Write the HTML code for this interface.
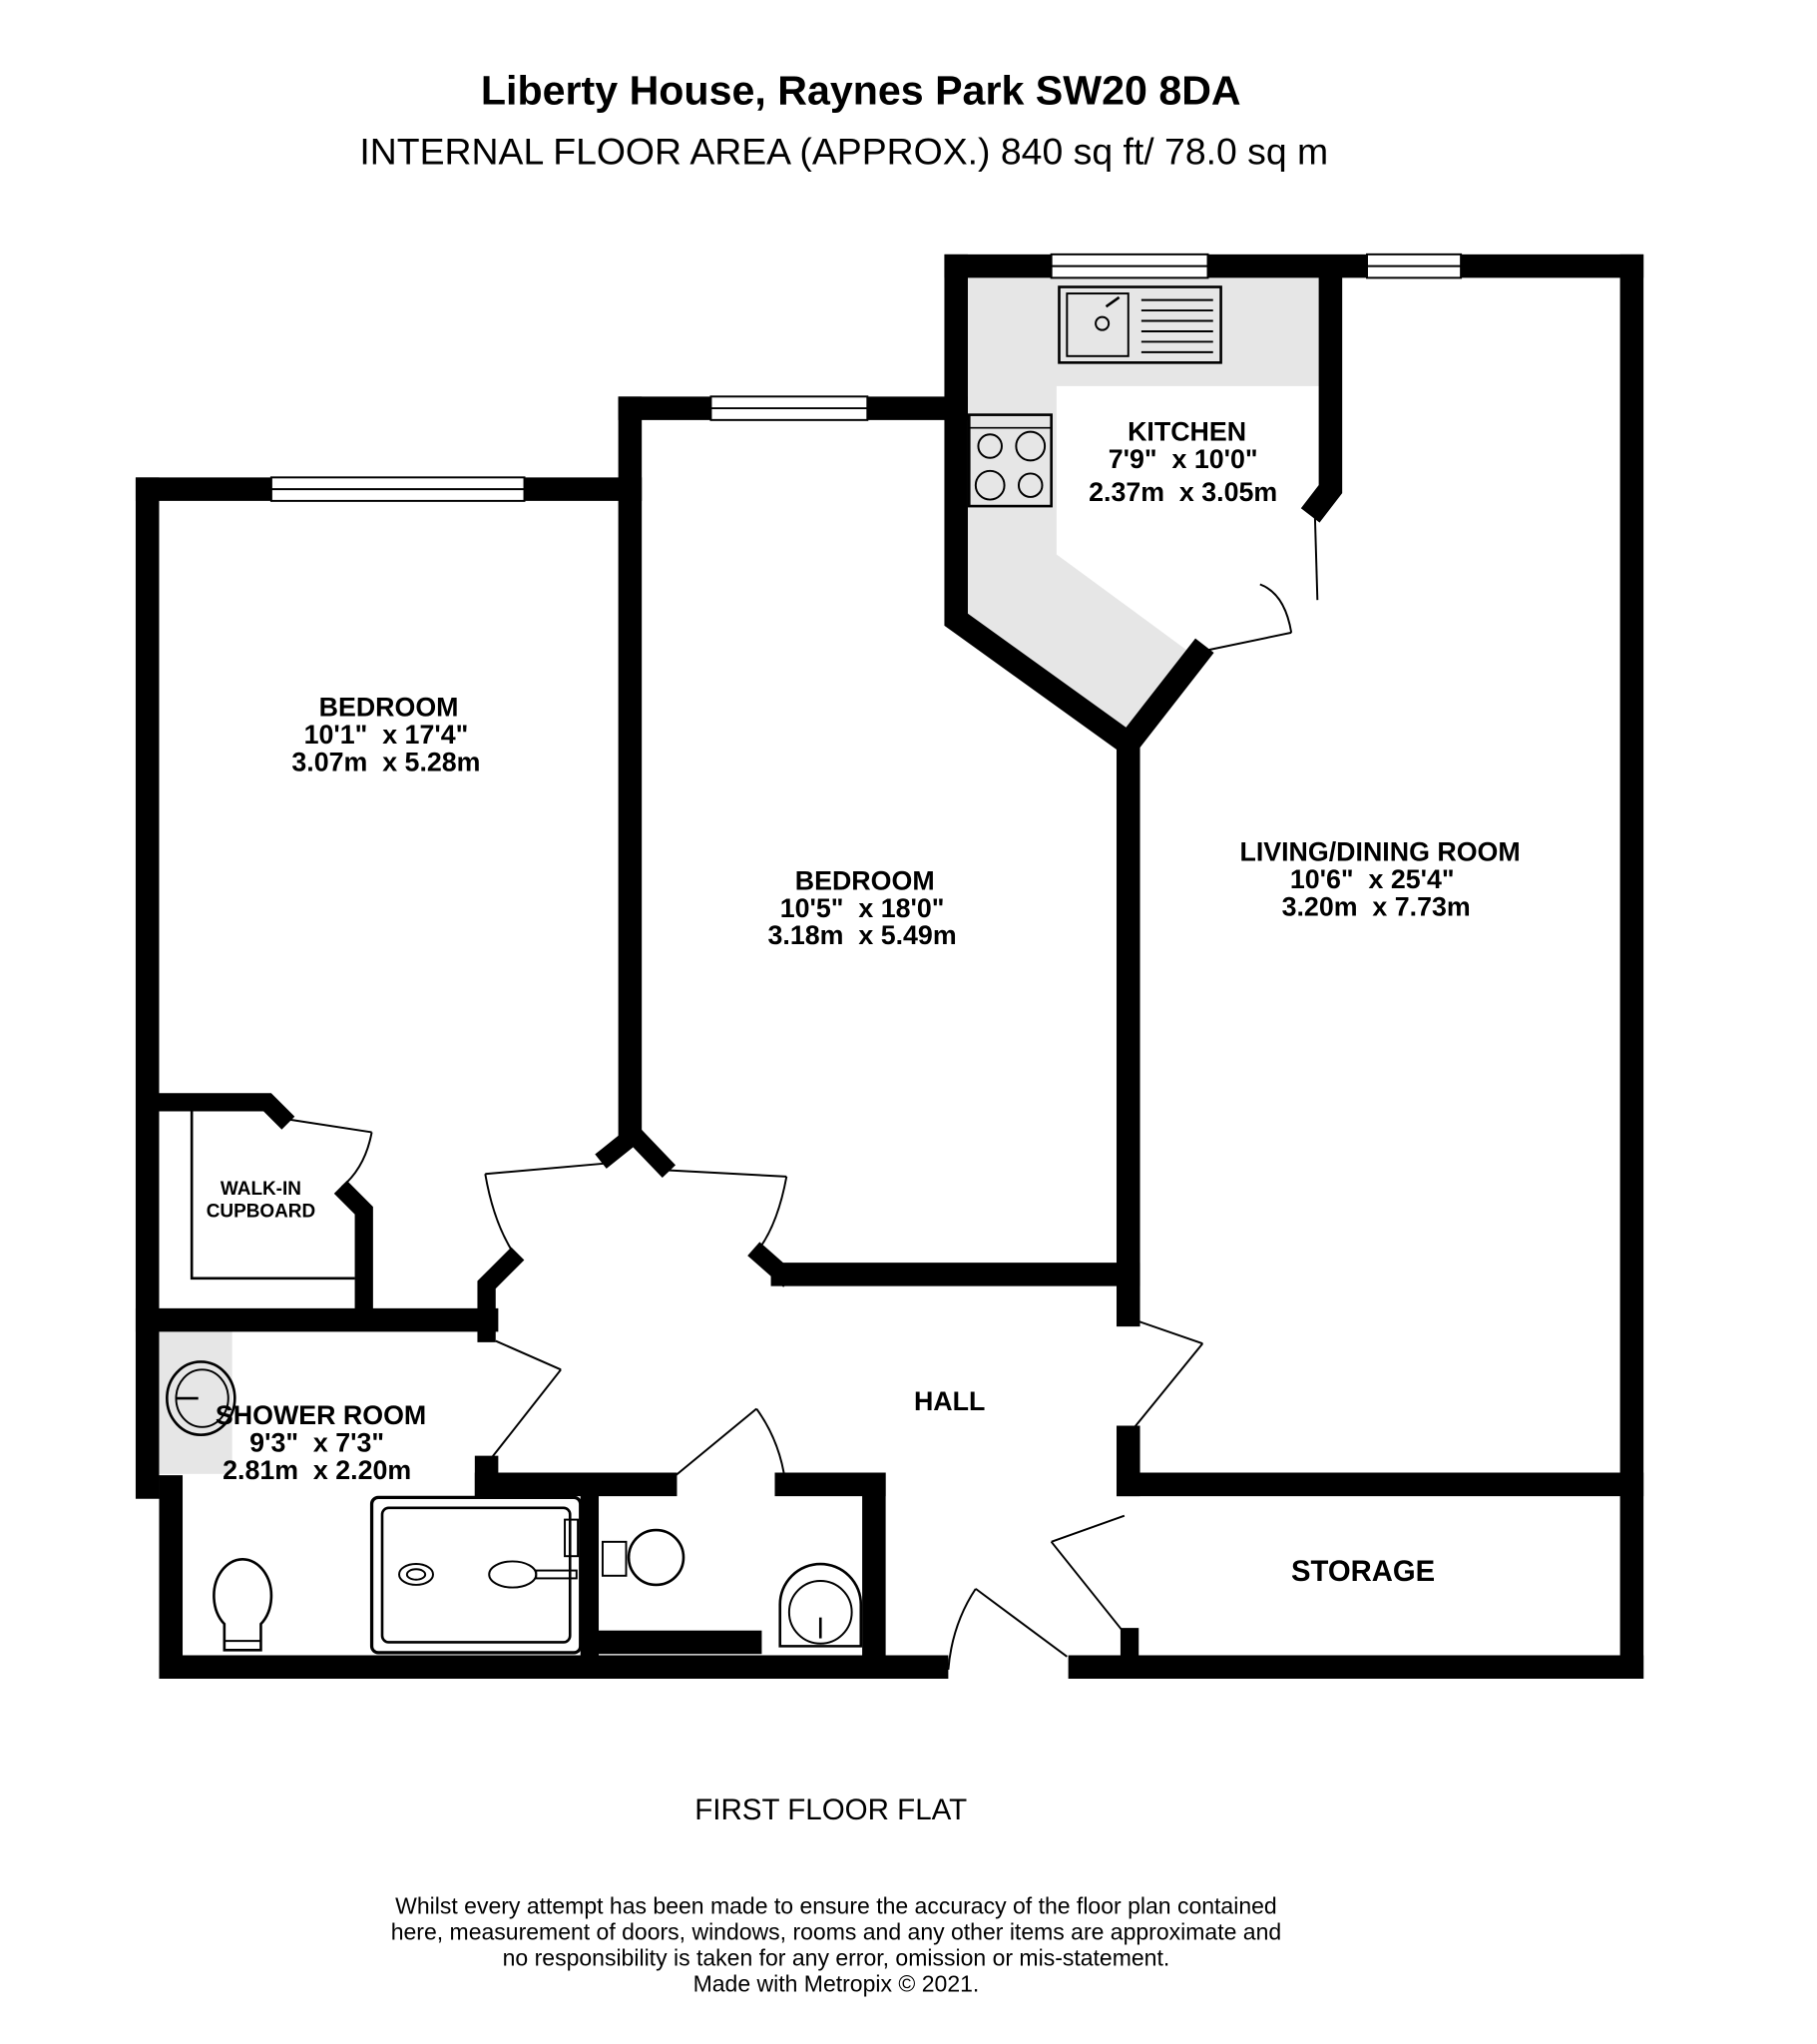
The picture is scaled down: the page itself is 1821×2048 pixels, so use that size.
<!DOCTYPE html>
<html><head><meta charset="utf-8"><style>
html,body{margin:0;padding:0;background:#fff;}
svg{display:block;}
text{font-family:"Liberation Sans",sans-serif;white-space:pre;}
</style></head><body>
<svg width="1821" height="2048" viewBox="0 0 1393 1567" preserveAspectRatio="none" xmlns="http://www.w3.org/2000/svg">
<rect width="1393" height="1567" fill="#fff"/>
<polygon points="742,213 1014,213 1014,296 810,296 810,425 912,500 866,565 742,472" fill="#e6e6e6"/>
<rect x="122" y="1020" width="56" height="110" fill="#e6e6e6"/>
<g stroke="#000" stroke-width="18" fill="none" stroke-linecap="square" stroke-linejoin="miter">
<line x1="113" y1="375" x2="208" y2="375"/>
<line x1="402" y1="375" x2="483" y2="375"/>
<line x1="113" y1="375" x2="113" y2="1140"/>
<line x1="131" y1="1140" x2="131" y2="1278"/>
<line x1="131" y1="1278" x2="718" y2="1278"/>
<line x1="828" y1="1278" x2="1251" y2="1278"/>
<line x1="1251" y1="204" x2="1251" y2="1278"/>
<line x1="733" y1="204" x2="806" y2="204"/>
<line x1="926" y1="204" x2="1048" y2="204"/>
<line x1="1120" y1="204" x2="1251" y2="204"/>
<line x1="483" y1="313" x2="545" y2="313"/>
<line x1="665" y1="313" x2="733" y2="313"/>
<line x1="483" y1="313" x2="483" y2="870"/>
<polyline points="733,204 733,475 865,570 918,502"/>
<line x1="865" y1="570" x2="865" y2="1008"/>
<line x1="865" y1="1102" x2="865" y2="1138"/>
<line x1="865" y1="1138" x2="1251" y2="1138"/>
<line x1="600" y1="977" x2="865" y2="977"/>
<polyline points="1020,208 1020,375 1010,388"/>
<line x1="113" y1="1012" x2="373" y2="1012"/>
<line x1="373" y1="1125" x2="373" y2="1138"/>
<line x1="373" y1="1138" x2="510" y2="1138"/>
<line x1="603" y1="1138" x2="670" y2="1138"/>
<line x1="670" y1="1138" x2="670" y2="1270"/>
</g>
<g stroke="#000" stroke-width="14" fill="none" stroke-linecap="square">
<polyline points="466,886 486,870 508,893"/>
<polyline points="583,962 600,977"/>
<polyline points="392,966 373,985 373,1022"/>
<polyline points="122,845 205,845 216,856"/>
<polyline points="266,915 279,928 279,1005"/>
<line x1="866" y1="1255" x2="866" y2="1278"/>
<line x1="452" y1="1146" x2="452" y2="1270"/>
</g>
<rect x="458" y="1250" width="126" height="18" fill="#000"/>
<polyline points="147,852 147,980 272,980" stroke="#000" stroke-width="2" fill="none"/>
<g fill="#fff" stroke="#000" stroke-width="1.5">
<rect x="208" y="366" width="194" height="18"/><line x1="208" y1="375" x2="402" y2="375"/>
<rect x="545" y="304" width="120" height="18"/><line x1="545" y1="313" x2="665" y2="313"/>
<rect x="806" y="195" width="120" height="18"/><line x1="806" y1="204" x2="926" y2="204"/>
<rect x="1048" y="195" width="72" height="18"/><line x1="1048" y1="204" x2="1120" y2="204"/>
</g>
<g stroke="#000" stroke-width="1.5" fill="none">
<line x1="220" y1="858" x2="285" y2="868"/><path d="M285,868 Q280,895 262,910"/>
<line x1="463" y1="892" x2="372" y2="900"/><path d="M372,900 Q378,935 392,958"/>
<line x1="510" y1="897" x2="603" y2="902"/><path d="M603,902 Q596,940 580,960"/>
<line x1="1008" y1="392" x2="1010" y2="460"/><path d="M966,448 Q985,455 990,485"/>
<line x1="918" y1="500" x2="990" y2="485"/>
<line x1="380" y1="1028" x2="430" y2="1050"/><line x1="430" y1="1050" x2="375" y2="1120"/>
<line x1="870" y1="1012" x2="922" y2="1030"/><line x1="922" y1="1030" x2="865" y2="1100"/>
<line x1="512" y1="1136" x2="580" y2="1080"/><path d="M580,1080 Q598,1105 602,1136"/>
<line x1="862" y1="1162" x2="806" y2="1182"/><line x1="806" y1="1182" x2="862" y2="1252"/>
<line x1="818" y1="1270" x2="748" y2="1218"/><path d="M748,1218 Q730,1245 727,1280"/>
</g>
<g stroke="#000" fill="none">
<rect x="285" y="1148" width="160" height="119" rx="5" stroke-width="2.5"/>
<rect x="293" y="1156" width="144" height="103" rx="5" stroke-width="2"/>
<rect x="433" y="1165" width="10" height="28" stroke-width="1.5"/>
<ellipse cx="319" cy="1207" rx="13" ry="8" stroke-width="1.5"/>
<ellipse cx="319" cy="1207" rx="7" ry="4" stroke-width="1.5"/>
<ellipse cx="393" cy="1207" rx="18" ry="10" stroke-width="1.5"/>
<rect x="411" y="1204" width="31" height="6" stroke-width="1.5"/>
<rect x="462" y="1182" width="18" height="26" stroke-width="1.5"/>
<circle cx="503" cy="1194" r="21" stroke-width="2"/>
<path d="M598,1262 L598,1230 A30,30 0 0 1 660,1230 L660,1262 Z" stroke-width="2"/>
<circle cx="629" cy="1236" r="24" stroke-width="1.5"/>
<line x1="629" y1="1240" x2="629" y2="1256" stroke-width="2"/>
<path d="M172,1265 L172,1245 A22,28 0 1 1 200,1245 L200,1265 Z" stroke-width="2"/>
<line x1="172" y1="1258" x2="200" y2="1258" stroke-width="1.5"/>
<ellipse cx="154" cy="1072" rx="26" ry="28" stroke-width="2"/>
<ellipse cx="155" cy="1072" rx="20" ry="22" stroke-width="1.5"/>
<line x1="135" y1="1072" x2="152" y2="1072" stroke-width="2"/>
<rect x="812" y="220" width="124" height="58" stroke-width="2"/>
<rect x="818" y="225" width="47" height="48" stroke-width="1.5"/>
<circle cx="845" cy="248" r="5" stroke-width="1.5"/>
<path d="M848,235 L858,228" stroke-width="2"/>
<line x1="875" y1="230" x2="930" y2="230" stroke-width="1.5"/>
<line x1="875" y1="238" x2="930" y2="238" stroke-width="1.5"/>
<line x1="875" y1="246" x2="930" y2="246" stroke-width="1.5"/>
<line x1="875" y1="254" x2="930" y2="254" stroke-width="1.5"/>
<line x1="875" y1="262" x2="930" y2="262" stroke-width="1.5"/>
<line x1="875" y1="270" x2="930" y2="270" stroke-width="1.5"/>
<rect x="743" y="318" width="63" height="70" stroke-width="2"/>
<line x1="743" y1="328" x2="806" y2="328" stroke-width="1.2"/>
<circle cx="759" cy="342" r="9" stroke-width="1.5"/><circle cx="790" cy="342" r="11" stroke-width="1.5"/>
<circle cx="759" cy="372" r="11" stroke-width="1.5"/><circle cx="790" cy="372" r="9" stroke-width="1.5"/>
</g>
<g fill="#000" text-anchor="middle">
<text x="660" y="80" font-size="31.5" font-weight="bold">Liberty House, Raynes Park SW20 8DA</text>
<text x="647" y="126" font-size="28.6">INTERNAL FLOOR AREA (APPROX.) 840 sq ft/ 78.0 sq m</text>
<g font-weight="bold" font-size="20.5">
<text x="298" y="549">BEDROOM</text><text x="296" y="570">10'1"  x 17'4"</text><text x="296" y="591">3.07m  x 5.28m</text>
<text x="663" y="682">BEDROOM</text><text x="661" y="703">10'5"  x 18'0"</text><text x="661" y="724">3.18m  x 5.49m</text>
<text x="910" y="338">KITCHEN</text><text x="907" y="359">7'9"  x 10'0"</text><text x="907" y="384">2.37m  x 3.05m</text>
<text x="1058" y="660">LIVING/DINING ROOM</text><text x="1052" y="681">10'6"  x 25'4"</text><text x="1055" y="702">3.20m  x 7.73m</text>
<text x="246" y="1092">SHOWER ROOM</text><text x="243" y="1113">9'3"  x 7'3"</text><text x="243" y="1134">2.81m  x 2.20m</text>
<text x="728" y="1081">HALL</text>
<text x="1045" y="1212" font-size="22.4">STORAGE</text>
</g>
<text x="200" y="916" font-size="14.5" font-weight="bold">WALK-IN</text>
<text x="200" y="933" font-size="14.5" font-weight="bold">CUPBOARD</text>
<text x="637" y="1395" font-size="22.6">FIRST FLOOR FLAT</text>
<g font-size="17.6">
<text x="641" y="1467">Whilst every attempt has been made to ensure the accuracy of the floor plan contained</text>
<text x="641" y="1487">here, measurement of doors, windows, rooms and any other items are approximate and</text>
<text x="641" y="1507">no responsibility is taken for any error, omission or mis-statement.</text>
<text x="641" y="1527">Made with Metropix © 2021.</text>
</g>
</g>
</svg>
</body></html>
